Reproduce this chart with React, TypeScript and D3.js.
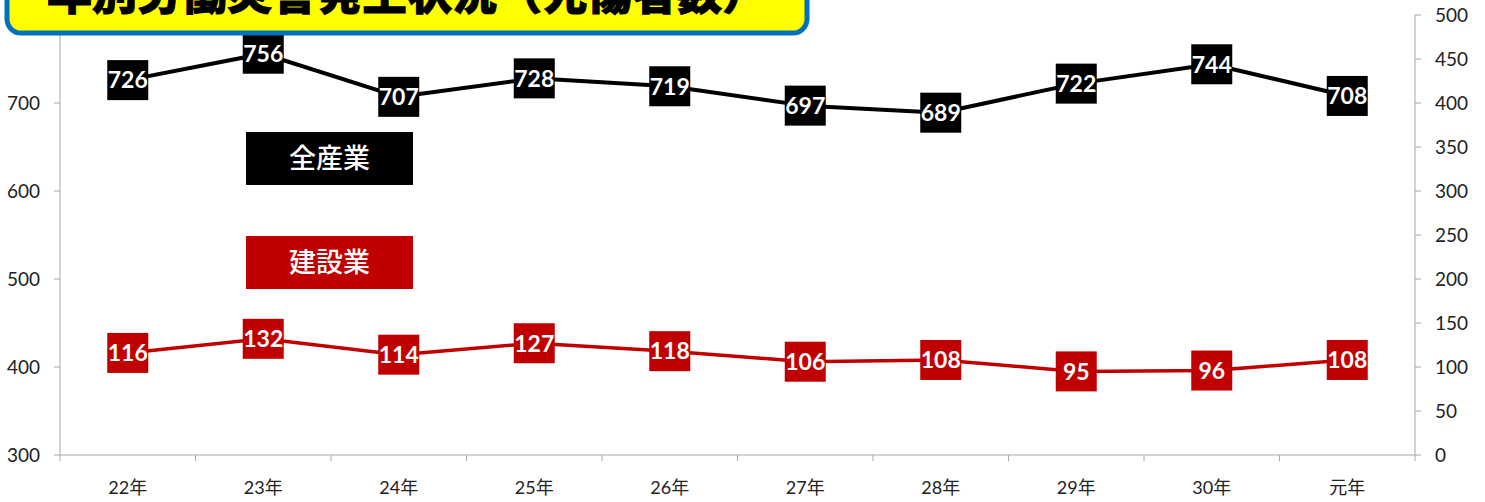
import React, { useRef, useEffect } from 'react';
import * as d3 from 'd3';

const width = 1485;
const height = 502;

const years = ['22年', '23年', '24年', '25年', '26年', '27年', '28年', '29年', '30年', '元年'];
const allIndustry = [726, 756, 707, 728, 719, 697, 689, 722, 744, 708];
const construction = [116, 132, 114, 127, 118, 106, 108, 95, 96, 108];
const leftTicks = [300, 400, 500, 600, 700];
const rightTicks = [0, 50, 100, 150, 200, 250, 300, 350, 400, 450, 500];

const title = '年別労働災害発生状況（死傷者数）';
const legend = [
  { name: '全産業', color: '#000000' },
  { name: '建設業', color: '#C00000' },
];

const margin = { left: 60, right: 70, top: 15, bottom: 47 };
const numFont = "Lato, 'Noto Sans CJK JP', sans-serif";
const jpFont = "'Noto Sans CJK JP', sans-serif";

const setupChart = (container: SVGSVGElement) => {
  const svg = d3.select(container);
  svg.selectAll('*').remove();

  const x = d3
    .scaleBand()
    .domain(years)
    .range([margin.left, width - margin.right]);
  const yLeft = d3.scaleLinear().domain([300, 800]).range([height - margin.bottom, margin.top]);
  const yRight = d3.scaleLinear().domain([0, 500]).range([height - margin.bottom, margin.top]);
  const bottom = height - margin.bottom;
  const axisColor = '#A6A6A6';

  // left axis
  const gl = svg.append('g');
  gl.append('line')
    .attr('x1', margin.left).attr('x2', margin.left)
    .attr('y1', yLeft(800)).attr('y2', bottom + 6)
    .attr('stroke', axisColor);
  leftTicks.forEach(t => {
    gl.append('line')
      .attr('x1', margin.left - 6).attr('x2', margin.left)
      .attr('y1', yLeft(t)).attr('y2', yLeft(t))
      .attr('stroke', axisColor);
    gl.append('text')
      .attr('x', margin.left - 20).attr('y', yLeft(t))
      .attr('dy', '0.36em')
      .attr('text-anchor', 'end')
      .attr('font-family', numFont).attr('font-size', 19).attr('fill', '#222')
      .text(t);
  });

  // right axis
  const rx = width - margin.right;
  const gr = svg.append('g');
  gr.append('line')
    .attr('x1', rx).attr('x2', rx)
    .attr('y1', yRight(500)).attr('y2', bottom + 6)
    .attr('stroke', axisColor);
  rightTicks.forEach(t => {
    gr.append('line')
      .attr('x1', rx).attr('x2', rx + 6)
      .attr('y1', yRight(t)).attr('y2', yRight(t))
      .attr('stroke', axisColor);
    gr.append('text')
      .attr('x', rx + 20).attr('y', yRight(t))
      .attr('dy', '0.36em')
      .attr('font-family', numFont).attr('font-size', 19).attr('fill', '#222')
      .text(t);
  });

  // x axis
  const gx = svg.append('g');
  gx.append('line')
    .attr('x1', margin.left).attr('x2', rx)
    .attr('y1', bottom).attr('y2', bottom)
    .attr('stroke', axisColor);
  years.forEach((yr, i) => {
    const x0 = x(yr) as number;
    if (i > 0) {
      gx.append('line')
        .attr('x1', x0).attr('x2', x0)
        .attr('y1', bottom).attr('y2', bottom + 6)
        .attr('stroke', axisColor);
    }
    gx.append('text')
      .attr('x', x0 + x.bandwidth() / 2).attr('y', bottom + 39)
      .attr('text-anchor', 'middle')
      .attr('font-family', numFont).attr('font-size', 18).attr('fill', '#222')
      .text(yr);
  });

  const cx = (i: number) => (x(years[i]) as number) + x.bandwidth() / 2;

  const drawSeries = (values: number[], y: d3.ScaleLinear<number, number>, color: string, sw: number) => {
    const line = d3
      .line<number>()
      .x((_, i) => cx(i))
      .y(d => y(d));
    svg.append('path')
      .datum(values)
      .attr('d', line)
      .attr('fill', 'none')
      .attr('stroke', color)
      .attr('stroke-width', sw)
      .attr('stroke-linejoin', 'round');
    const g = svg.append('g');
    values.forEach((v, i) => {
      g.append('rect')
        .attr('x', cx(i) - 20.5).attr('y', y(v) - 20)
        .attr('width', 41).attr('height', 40)
        .attr('fill', color);
      g.append('text')
        .attr('x', cx(i)).attr('y', y(v))
        .attr('dy', '0.36em')
        .attr('text-anchor', 'middle')
        .attr('font-family', numFont).attr('font-weight', 'bold')
        .attr('font-size', 23).attr('fill', 'white')
        .text(v);
    });
  };

  drawSeries(construction, yRight, '#C00000', 3.5);
  drawSeries(allIndustry, yLeft, '#000000', 4);

  // legend boxes
  legend.forEach((l, i) => {
    const top = 132 + i * 104;
    svg.append('rect')
      .attr('x', 246).attr('y', top)
      .attr('width', 167).attr('height', 53)
      .attr('fill', l.color);
    svg.append('text')
      .attr('x', 329.5).attr('y', top + 26.5)
      .attr('dy', '0.36em')
      .attr('text-anchor', 'middle')
      .attr('font-family', jpFont).attr('font-weight', 500)
      .attr('font-size', 27).attr('fill', 'white')
      .text(l.name);
  });

  // title box
  svg.append('rect')
    .attr('x', 7).attr('y', -40)
    .attr('width', 800).attr('height', 73)
    .attr('rx', 14)
    .attr('fill', '#FFFF00')
    .attr('stroke', '#0070C0')
    .attr('stroke-width', 5);
  svg.append('text')
    .attr('x', 407).attr('y', 10)
    .attr('text-anchor', 'middle')
    .attr('font-family', jpFont).attr('font-weight', 900)
    .attr('font-size', 45).attr('fill', '#000')
    .attr('stroke', '#000').attr('stroke-width', 1)
    .text(title);
};

export default function App() {
  const ref = useRef<SVGSVGElement>(null);
  useEffect(() => {
    if (ref.current) setupChart(ref.current);
  }, []);
  return (
    <svg
      ref={ref}
      width={width}
      height={height}
      style={{ position: 'absolute', left: 0, top: 0, background: 'white' }}
    />
  );
}
